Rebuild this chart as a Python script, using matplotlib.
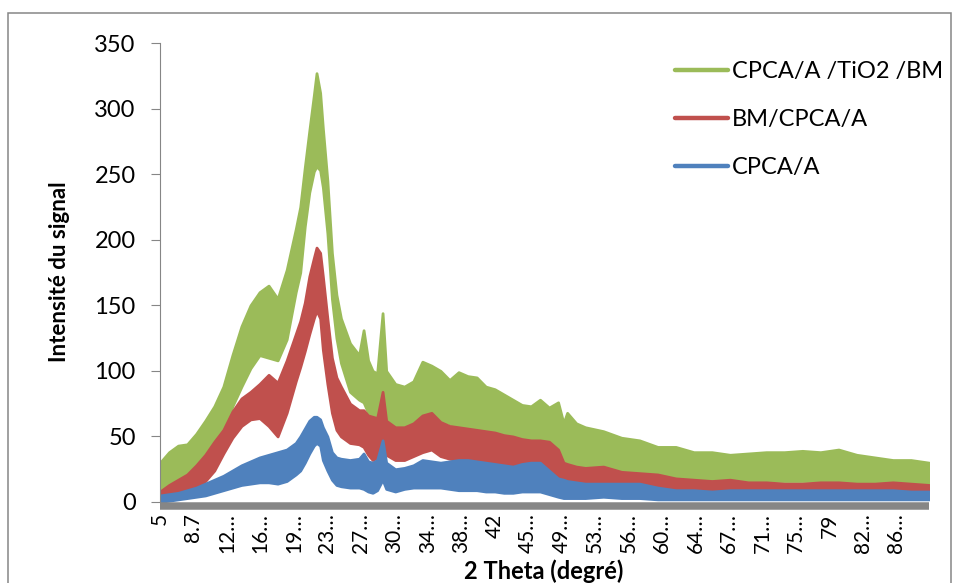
import matplotlib
matplotlib.use('Agg')
import matplotlib.pyplot as plt
from matplotlib.lines import Line2D
from matplotlib.patches import Rectangle

plt.rcParams['font.family'] = ['Lato', 'DejaVu Sans']

# 2 theta positions (degrees) where the band edges were taken
two_theta = [5, 6, 7, 8, 9, 10, 11, 12, 13, 14, 15, 16, 17, 18, 19, 20, 20.5, 21, 21.5, 22,
             22.3, 22.7, 23, 23.5, 24, 24.5, 25, 26, 27, 27.5, 28, 28.5, 29, 29.6, 30, 31, 32,
             33, 34, 35, 36, 37, 38, 39, 40, 41, 42, 43, 44, 45, 46, 47, 48, 49, 49.6, 50, 51,
             52, 54, 56, 58, 60, 62, 64, 66, 68, 70, 72, 74, 76, 78, 80, 82, 84, 86, 88, 90]

# CPCA/A /TiO2 /BM : upper and lower edge of the noisy trace
green_hi = [30, 38, 43, 44, 52, 62, 73, 88, 112, 134, 150, 160, 165, 155, 177, 208, 225, 255, 283, 310,
            327, 312, 285, 245, 190, 158, 140, 121, 112, 131, 108, 100, 98, 144, 100, 90, 88,
            92, 107, 104, 100, 93, 99, 96, 95, 88, 86, 82, 78, 74, 73, 78, 72, 76, 60, 68, 60,
            57, 54, 49, 47, 42, 42, 38, 38, 36, 37, 38, 38, 39, 38, 40, 36, 34, 32, 32, 30]
green_lo = [10, 14, 17, 22, 28, 33, 41, 52, 73, 88, 102, 112, 110, 108, 124, 160, 175, 210, 236, 252,
            256, 253, 240, 205, 155, 125, 106, 84, 78, 76, 68, 60, 57, 65, 60, 58, 56,
            58, 68, 64, 62, 60, 57, 55, 52, 48, 46, 44, 42, 42, 42, 41, 38, 34, 30, 30, 28,
            27, 24, 22, 21, 19, 17, 15, 16, 15, 16, 16, 16, 16, 16, 16, 15, 15, 14, 13, 13]

# BM/CPCA/A
red_hi = [8, 13, 17, 21, 28, 36, 46, 55, 69, 79, 84, 90, 97, 91, 108, 128, 138, 152, 172, 186,
          194, 190, 172, 140, 110, 95, 88, 75, 70, 70, 66, 65, 64, 84, 62, 57, 57,
          60, 66, 68, 61, 58, 57, 56, 55, 54, 53, 51, 50, 48, 47, 47, 46, 40, 30, 29, 27,
          26, 27, 23, 22, 21, 18, 17, 16, 17, 15, 15, 14, 14, 15, 15, 14, 14, 15, 14, 13]
red_lo = [3, 4, 5, 7, 11, 16, 24, 37, 49, 58, 63, 64, 58, 50, 68, 92, 103, 115, 128, 140,
          146, 140, 116, 90, 68, 55, 50, 45, 44, 42, 36, 32, 34, 40, 36, 32, 32,
          35, 38, 40, 35, 33, 32, 31, 30, 30, 29, 28, 27, 25, 24, 24, 22, 17, 14, 13, 11,
          10, 9, 9, 8, 7, 7, 7, 7, 7, 7, 7, 7, 7, 7, 7, 7, 7, 7, 8, 8]

# CPCA/A
blue_hi = [5, 6, 7, 9, 11, 14, 17, 20, 24, 28, 31, 34, 36, 38, 40, 45, 50, 56, 62, 65,
           65, 63, 57, 50, 38, 34, 33, 32, 33, 37, 31, 30, 32, 47, 30, 25, 26,
           28, 32, 31, 30, 31, 32, 32, 31, 30, 29, 28, 27, 29, 30, 30, 24, 18, 17, 16, 15,
           14, 14, 14, 14, 11, 9, 9, 8, 9, 9, 9, 9, 9, 9, 9, 9, 9, 9, 8, 8]
blue_lo = [0, 1, 2, 3, 4, 5, 7, 9, 11, 13, 14, 15, 15, 14, 16, 21, 24, 30, 37, 43,
           45, 43, 32, 24, 17, 13, 12, 11, 11, 10, 8, 7, 9, 17, 10, 8, 10,
           11, 11, 11, 11, 10, 9, 9, 9, 8, 8, 7, 7, 8, 8, 8, 6, 4, 3, 3, 3,
           3, 4, 3, 3, 2, 2, 2, 2, 2, 2, 2, 2, 2, 2, 2, 2, 2, 2, 2, 2]

names = ["CPCA/A /TiO2 /BM", "BM/CPCA/A", "CPCA/A"]
colors = ['#9BBB59', '#C0504D', '#4F81BD']

# category labels shown on the x axis (every 3.7 degrees)
tick_pos = [5, 8.7, 12.4, 16.1, 19.8, 23.5, 27.2, 30.9, 34.6, 38.3, 42, 45.7, 49.4, 53.1,
            56.8, 60.5, 64.2, 67.9, 71.6, 75.3, 79, 82.7, 86.4]
tick_txt = ["5", "8.7", "12…", "16…", "19…", "23…", "27…", "30…", "34…", "38…", "42", "45…",
            "49…", "53…", "56…", "60…", "64…", "67…", "71…", "75…", "79", "82…", "86…"]

fig = plt.figure(figsize=(9.57, 5.83), dpi=100)
ax = fig.add_axes([160/957, 1 - 502/583, 769/957, 459/583])

bands = [(green_lo, green_hi), (red_lo, red_hi), (blue_lo, blue_hi)]
handles = []
for (lo, hi), name, c in zip(bands, names, colors):
    ax.fill_between(two_theta, lo, hi, color=c, edgecolor=c, lw=2, joinstyle='round')
    handles.append(Line2D([], [], color=c, lw=3.2, solid_capstyle='round'))

ax.set_xlim(5, 90)
ax.set_ylim(0, 350)
ax.set_yticks(range(0, 351, 50))
ax.set_xticks(tick_pos)
ax.set_xticklabels(tick_txt)

for s in ['top', 'right']:
    ax.spines[s].set_visible(False)
ax.spines['left'].set_color('#868686')
ax.spines['left'].set_linewidth(0.8)
ax.spines['bottom'].set_position(('outward', 3.1))
ax.spines['bottom'].set_color('#868686')
ax.spines['bottom'].set_linewidth(5.4)
ax.spines['bottom'].set_capstyle('butt')

ax.tick_params(axis='y', length=6.5, width=0.8, color='#868686', pad=11, labelsize=17)
ax.tick_params(axis='x', length=0, pad=5, labelsize=15, labelrotation=90)

ax.legend(handles, names, loc='upper left', bbox_to_anchor=(0.67, 0.961), frameon=False,
          fontsize=17, handlelength=2.25, handletextpad=0.17, labelspacing=1.15,
          borderpad=0, borderaxespad=0)

fig.text(59/957, 1 - 272/583, "Intensité du signal", rotation=90, ha='center', va='center',
         fontsize=16, fontweight='bold')
fig.text(544/957, 1 - 571/583, "2 Theta (degré)", ha='center', va='center',
         fontsize=17, fontweight='bold')

# chart area frame
fig.patches.append(Rectangle((8/957, -0.05), (951 - 8)/957, 1 - 13/583 + 0.05,
                             transform=fig.transFigure, fill=False, ec='#868686', lw=1.1))

fig.savefig('out.png', dpi=100)
